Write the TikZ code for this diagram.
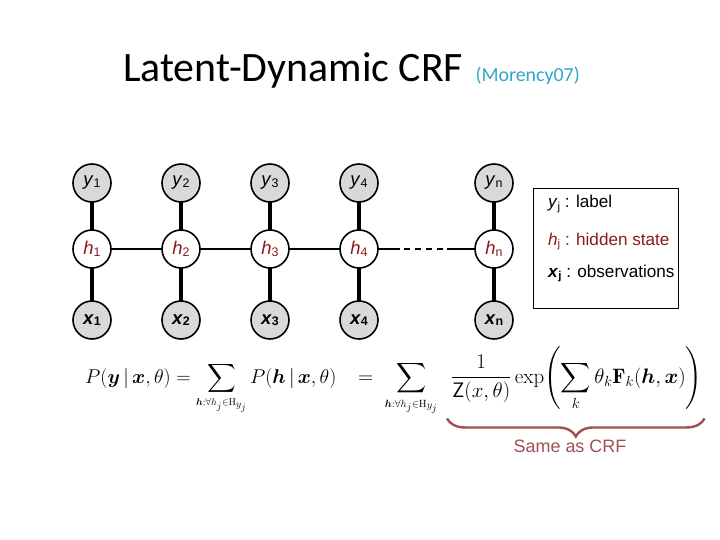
\RequirePackage{fix-cm}
\documentclass[tikz,border=0pt]{standalone}
\usepackage{amsmath,amssymb}
\usepackage{fontspec}
\newfontfamily\arialfont{Liberation Sans}
\newfontfamily\titlefont{Carlito}
\usepackage{xcolor}
\usepackage{tikz}
\usetikzlibrary{positioning,decorations.pathreplacing}

\definecolor{hidred}{HTML}{8B1A1A}
\definecolor{crfred}{HTML}{A04F55}
\definecolor{citeblue}{HTML}{35A3CC}
\definecolor{obsgray}{HTML}{D9D9D9}

% node labels: letter with a lowered small index
\newcommand{\vsub}[1]{\raisebox{-1.5bp}{\fontsize{12.5}{13}\selectfont #1}}
\newcommand{\lsub}[1]{\raisebox{-2.5bp}{\fontsize{11.5}{12}\selectfont #1}}

\begin{document}
\begin{tikzpicture}[
    x=1bp, y=1bp,
    node distance=28bp,
    var/.style={circle, draw, line width=1.6bp, minimum size=38bp, inner sep=0pt, outer sep=0pt, font=\arialfont\fontsize{18.5}{19}\selectfont},
    obs/.style={var, fill=obsgray},
    hid/.style={var, fill=white, text=hidred},
    link/.style={line width=3.2bp},
    hlink/.style={line width=2.6bp},
    legtext/.style={anchor=base west, inner sep=0pt, font=\arialfont\fontsize{17.2}{18}\selectfont},
    eq/.style={anchor=base west, inner sep=0pt, font=\fontsize{21}{25}\selectfont}
]
    \useasboundingbox (0,0) rectangle (720,-540);

    % title
    \node[anchor=base west, inner sep=0pt, font=\titlefont\fontsize{42}{42}\selectfont] (title) at (123,-82) {Latent-Dynamic CRF};
    \node[anchor=base west, inner sep=0pt, text=citeblue, font=\titlefont\fontsize{20}{20}\selectfont] (cite) at ([xshift=12bp]title.base east) {(Morency07)};

    % hidden chain
    \node[hid] (h1) at (92,-249) {\textit{h}\vsub{1}};
    \node[hid, right=51bp of h1] (h2) {\textit{h}\vsub{2}};
    \node[hid, right=51bp of h2] (h3) {\textit{h}\vsub{3}};
    \node[hid, right=51bp of h3] (h4) {\textit{h}\vsub{4}};
    \node[hid, right=97bp of h4] (hn) {\textit{h}\vsub{n}};

    % labels
    \node[obs, above=of h1] (y1) {\textit{y}\vsub{1}};
    \node[obs, above=of h2] (y2) {\textit{y}\vsub{2}};
    \node[obs, above=of h3] (y3) {\textit{y}\vsub{3}};
    \node[obs, above=of h4] (y4) {\textit{y}\vsub{4}};
    \node[obs, above=of hn] (yn) {\textit{y}\vsub{n}};

    % observations
    \node[obs, below=33bp of h1] (x1) {\bfseries\textit{x}\vsub{1}};
    \node[obs, below=33bp of h2] (x2) {\bfseries\textit{x}\vsub{2}};
    \node[obs, below=33bp of h3] (x3) {\bfseries\textit{x}\vsub{3}};
    \node[obs, below=33bp of h4] (x4) {\bfseries\textit{x}\vsub{4}};
    \node[obs, below=33bp of hn] (xn) {\bfseries\textit{x}\vsub{n}};

    \draw[link] (y1) -- (h1) -- (x1);
    \draw[link] (y2) -- (h2) -- (x2);
    \draw[link] (y3) -- (h3) -- (x3);
    \draw[link] (y4) -- (h4) -- (x4);
    \draw[link] (yn) -- (hn) -- (xn);

    \draw[hlink] (h1) -- (h2);
    \draw[hlink] (h2) -- (h3);
    \draw[hlink] (h3) -- (h4);
    \coordinate[right=22bp of h4.east] (gapA);
    \coordinate[right=26bp of h4.east] (dashA);
    \coordinate[left=32bp of hn.west] (dashB);
    \coordinate[left=28bp of hn.west] (gapB);
    \draw[hlink] (h4) -- (gapA);
    \draw[hlink, dash pattern=on 6bp off 5bp] (dashA) -- (dashB);
    \draw[hlink] (gapB) -- (hn);

    % legend
    \node[draw, line width=0.8bp, minimum width=145bp, minimum height=120bp, anchor=north west] (legend) at (533,-188) {};
    \node[legtext] (ly) at ([xshift=15bp,yshift=-20bp]legend.north west) {\textit{y}\lsub{j} : label};
    \node[legtext, text=hidred] (lh) at ([yshift=-37bp]ly.base west) {\textit{h}\lsub{j} : hidden state};
    \node[legtext] (lx) at ([yshift=-32bp]lh.base west) {\textbf{\textit{x}\lsub{j}} : observations};

    % formula
    \node[eq, font=\fontsize{20}{24}\selectfont] (eqL) at (85,-383) {$\displaystyle P(\boldsymbol{y}\,|\,\boldsymbol{x},\theta)=\sum_{\scriptscriptstyle\boldsymbol{h}:\forall h_j\in\mathrm{H}_{y_j}} P(\boldsymbol{h}\,|\,\boldsymbol{x},\theta)$};
    \node[eq] (eqS) at (358,-383) {$\displaystyle =\;\sum_{\scriptscriptstyle\boldsymbol{h}:\forall h_j\in\mathrm{H}_{y_j}}$};
    \node[eq] (eqF) at (451,-383) {$\displaystyle \frac{1}{\mathsf{Z}(x,\theta)}\exp\!\left(\sum_{k}\theta_k\mathbf{F}_k(\boldsymbol{h},\boldsymbol{x})\right)$};

    \draw[crfred, line width=2.4bp, decorate, decoration={brace, mirror, amplitude=18bp}]
        ([xshift=-4bp,yshift=-8bp]eqF.south west) -- ([xshift=2bp,yshift=-8bp]eqF.south east);
    \node[text=crfred, font=\arialfont\fontsize{18}{18}\selectfont] (same) at (570,-446) {Same as CRF};
\end{tikzpicture}
\end{document}
